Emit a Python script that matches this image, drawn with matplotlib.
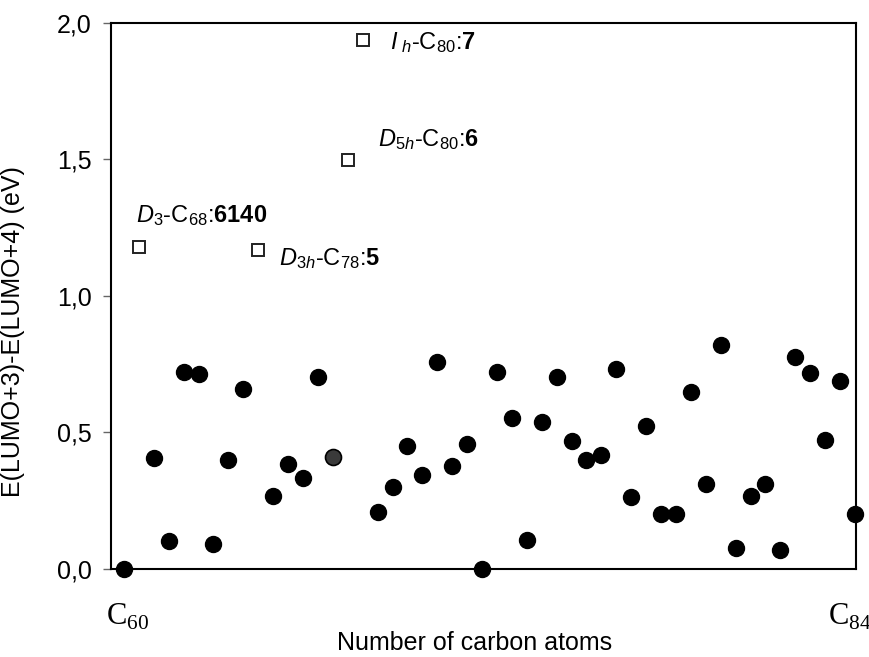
import matplotlib
matplotlib.use("Agg")
from matplotlib import pyplot as plt
from matplotlib.ticker import FuncFormatter
import numpy as np

plt.rcParams["font.family"] = ["Liberation Sans", "DejaVu Sans"]
plt.rcParams["mathtext.fontset"] = "custom"
plt.rcParams["mathtext.rm"] = "Liberation Sans"
plt.rcParams["mathtext.it"] = "Liberation Sans:italic"
plt.rcParams["mathtext.bf"] = "Liberation Sans:bold"
plt.rcParams["mathtext.sf"] = "Liberation Serif"

# gap values for the 50 isomers, in plot order
gap = [0.00, 1.178, 0.404, 0.103, 0.719, 0.712, 0.089, 0.397, 0.659, 1.169,
       0.265, 0.382, 0.331, 0.704, 0.411, 1.496, 1.935, 0.206, 0.301, 0.448,
       0.345, 0.756, 0.375, 0.455, 0.00, 0.722, 0.553, 0.106, 0.539, 0.701,
       0.466, 0.400, 0.415, 0.731, 0.262, 0.523, 0.202, 0.202, 0.648, 0.312,
       0.818, 0.077, 0.267, 0.312, 0.070, 0.774, 0.716, 0.472, 0.686, 0.200]
special_idx = [1, 9, 15, 16]
special_lbl = [r"$\mathit{D}_{\mathrm{3}}$-C$_{68}$:$\mathbf{6140}$",
               r"$\mathit{D}_{\mathit{3h}}$-C$_{78}$:$\mathbf{5}$",
               r"$\mathit{D}_{\mathit{5h}}$-C$_{80}$:$\mathbf{6}$",
               r"$\mathit{I}_{\ \mathit{h}}$-C$_{80}$:$\mathbf{7}$"]
grey_idx = 14

gap = np.array(gap)
x = np.arange(len(gap))
normal = np.array([i for i in x if i not in special_idx and i != grey_idx])

fig = plt.figure(figsize=(8.7, 6.57), dpi=100)
ax = fig.add_axes([0.1276, 0.1344, 0.8563, 0.831])

ax.plot(x[normal], gap[normal], "o", ms=11.5, mfc="black", mec="black",
        clip_on=False, zorder=3)
ax.plot([grey_idx], [gap[grey_idx]], "o", ms=11.5, mfc="#3a3a3a", mec="black",
        mew=1.2, clip_on=False, zorder=3)
ax.plot(x[special_idx], gap[special_idx], "s", ms=9.3, mfc="white", mec="#222222",
        mew=1.4, zorder=3)

offsets = [(-2, 18), (15, -11.5), (22, 10), (20, -6)]
for i, lbl, off in zip(special_idx, special_lbl, offsets):
    ax.annotate(lbl, (x[i], gap[i]), xytext=off, textcoords="offset points",
                ha="left", va="baseline", fontsize=17)

ax.set_xlim(-0.87, 49.07)
ax.set_ylim(0, 2.0)
ax.set_yticks([0, 0.5, 1.0, 1.5, 2.0])
ax.yaxis.set_major_formatter(FuncFormatter(lambda v, p: f"{v:.1f}".replace(".", ",")))
ax.set_xticks([])
ax.tick_params(axis="y", direction="out", length=6, width=1, color="#666666",
               labelsize=18, pad=8)
for s in ax.spines.values():
    s.set_linewidth(1.5)

ax.text(-0.0067, -0.103, r"$\mathsf{C}_{\mathsf{60}}$", transform=ax.transAxes,
        fontsize=22, ha="left", va="baseline")
ax.text(0.9624, -0.103, r"$\mathsf{C}_{\mathsf{84}}$", transform=ax.transAxes,
        fontsize=22, ha="left", va="baseline")

ax.set_xlabel("Number of carbon atoms", fontsize=18)
ax.xaxis.set_label_coords(0.4886, -0.114)
ax.set_ylabel("E(LUMO+3)-E(LUMO+4) (eV)", fontsize=18)
ax.yaxis.set_label_coords(-0.115, 0.435)

fig.savefig("out.png", dpi=100)
